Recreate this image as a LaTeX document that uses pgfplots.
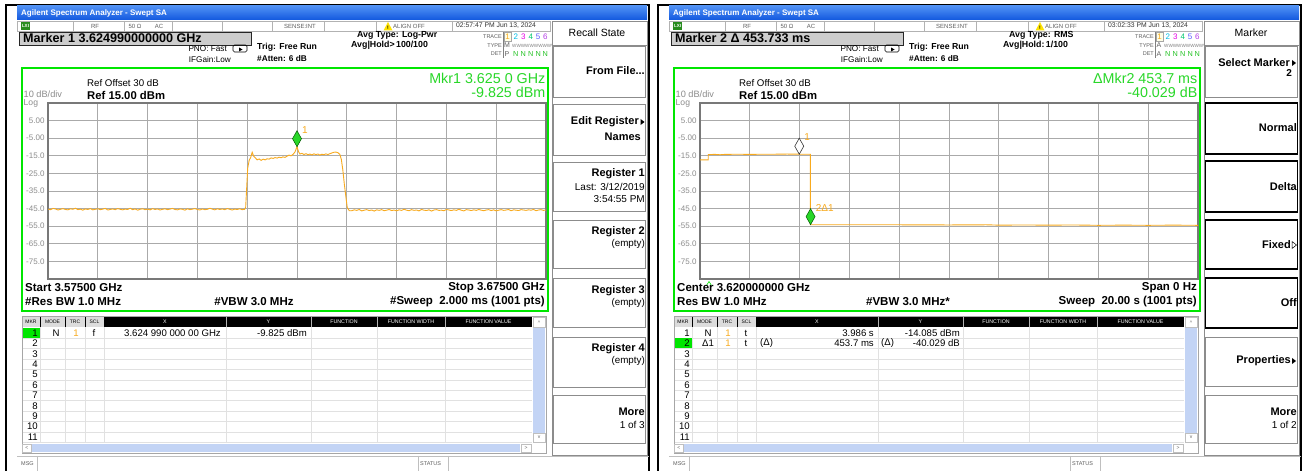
\documentclass[border=0pt]{standalone}
\usepackage{pgfplots}
\pgfplotsset{compat=1.18}
\usepackage{fontspec}
\setmainfont{Liberation Sans}
\newcommand\fs[1]{\fontsize{#1}{#1}\selectfont}
\definecolor{xpblue}{RGB}{18,88,222}
\definecolor{xpbluel}{RGB}{80,145,245}
\definecolor{sagreen}{RGB}{0,230,0}
\definecolor{mkgreen}{RGB}{40,215,40}
\definecolor{trc}{RGB}{248,170,30}
\definecolor{gridg}{RGB}{170,170,170}
\definecolor{axg}{RGB}{120,120,120}
\definecolor{tickg}{RGB}{140,140,140}
\definecolor{stg}{RGB}{95,95,95}
\definecolor{keyg}{RGB}{140,140,140}
\definecolor{boxg}{RGB}{205,205,205}
\definecolor{sbblue}{RGB}{195,212,245}
\definecolor{rowg}{RGB}{225,225,225}
\definecolor{lxi}{RGB}{40,140,30}
\definecolor{tc2}{RGB}{0,190,230}
\definecolor{tc3}{RGB}{230,0,230}
\definecolor{tc4}{RGB}{0,200,110}
\definecolor{tc5}{RGB}{90,90,255}
\definecolor{tc6}{RGB}{180,60,230}

\pgfplotsset{sa/.style={
  scale only axis, width=498pt, height=176pt, anchor=south west,
  ymin=-85, ymax=15, ytick={-75,-65,...,5},
  yticklabels={-75.0,-65.0,-55.0,-45.0,-35.0,-25.0,-15.0,-5.00,5.00},
  yticklabel style={font={\fs{8}}, text=tickg},
  xticklabels={}, major tick length=0pt,
  grid=major, major grid style={draw=gridg, line width=0.8pt},
  axis line style={draw=axg, line width=1.4pt},
}}

\newcommand\skbox[3][keyg]{\draw[#1, fill=white] (553.5,#2) rectangle (645.5,#3);}

% #1 date, #2 type letter, #3 det letter, #4 green row
\newcommand\panelbase[4]{%
 \draw[line width=1.6pt] (6,471) -- (6,5) -- (649,5) -- (649,471);
 \shade[top color=xpbluel, bottom color=xpblue] (17,6) rectangle (647,20);
 \node[anchor=west, text=white, inner sep=0pt] at (21,13) {\fs{8}\bfseries Agilent Spectrum Analyzer - Swept SA};
 % status row
 \draw[draw=gray!60, fill=white] (17,21) rectangle (550,31);
 \foreach \xx in {73,124,172,222,272,324,376,452} {\draw[gray!60] (\xx,21) -- (\xx,31);}
 \fill[lxi] (21,22) rectangle (30,30);
 \node[text=white,inner sep=0pt] at (25.5,26) {\fs{4.5}\bfseries LXI};
 \node[text=stg,inner sep=0pt] at (95,26) {\fs{6}RF};
 \node[text=stg,inner sep=0pt] at (135,26) {\fs{6}50 Ω};
 \node[text=stg,inner sep=0pt] at (159,26) {\fs{6}AC};
 \node[text=stg,inner sep=0pt] at (300,26) {\fs{6}SENSE:INT};
 \fill[yellow!85!orange] (383.5,30.5) -- (388,22) -- (392.5,30.5) -- cycle;
 \node[inner sep=0pt] at (388,27.5) {\fs{5}\bfseries !};
 \node[text=stg,anchor=west,inner sep=0pt] at (393,26) {\fs{6}ALIGN OFF};
 \node[text=black!80,anchor=west,inner sep=0pt] at (456,26) {\fs{6.8}#1};
 % marker box
 \draw[draw=gray!30!black, fill=boxg, line width=0.6pt] (19,32) rectangle (251,45);
 % acquisition info
 \node[anchor=east,inner sep=0pt] at (227,48.5) {\fs{8.2}PNO: Fast};
 \draw[line width=0.6pt, rounded corners=1.5pt] (233,45) rectangle (247,52);
 \fill (239,47.5) -- (242.5,49.5) -- (239,51.5) -- cycle;
 \node[anchor=east,inner sep=0pt] at (231,59.5) {\fs{8.2}IFGain:Low};
 \node[anchor=west,inner sep=0pt] at (257,47) {\fs{8.7}\bfseries Trig: Free Run};
 \node[anchor=west,inner sep=0pt] at (257,59) {\fs{8.3}\bfseries\#Atten: 6 dB};
 % trace block
 \node[anchor=east,inner sep=0pt,text=stg] at (502,37) {\fs{5.5}TRACE};
 \node[anchor=east,inner sep=0pt,text=stg] at (502,45.5) {\fs{5.5}TYPE};
 \node[anchor=east,inner sep=0pt,text=stg] at (502,54) {\fs{5.5}DET};
 \draw[gray] (503.5,32) -- (503.5,58);
 \draw[gray!70, fill=yellow!10] (504,32.5) rectangle (511,41.5);
 \node[text=trc, inner sep=0pt] at (507.5,37) {\fs{8}1};
 \node[text=tc2, inner sep=0pt] at (515.8,37) {\fs{8}2};
 \node[text=tc3, inner sep=0pt] at (523.3,37) {\fs{8}3};
 \node[text=tc4, inner sep=0pt] at (530.8,37) {\fs{8}4};
 \node[text=tc5, inner sep=0pt] at (538.2,37) {\fs{8}5};
 \node[text=tc6, inner sep=0pt] at (545.3,37) {\fs{8}6};
 \node[inner sep=0pt,text=stg] at (507,45.5) {\fs{7}#2};
 \node[inner sep=0pt,text=gray, anchor=west] at (512,45.5) {\fs{4.6}WWWWWWWWWW};
 \node[inner sep=0pt,text=stg] at (507,54) {\fs{7}#3};
 \foreach \xx in {515.8,523.3,530.8,538.2,545.3}{\node[text=mkgreen!90!black, inner sep=0pt] at (\xx,54) {\fs{7.3}N};}
 % display frame
 \draw[sagreen, line width=1.8pt] (22,68) rectangle (548,311);
 \node[anchor=west,inner sep=0pt,text=tickg] at (23.5,93.8) {\fs{9.2}10 dB/div};
 \node[anchor=west,inner sep=0pt,text=tickg] at (23.5,103.2) {\fs{8.6}Log};
 \node[anchor=west,inner sep=0pt] at (87,83.5) {\fs{9.7}Ref Offset 30 dB};
 \node[anchor=west,inner sep=0pt] at (87,95) {\fs{11.3}\bfseries Ref 15.00 dBm};
 % marker table
 \draw[gray!70, fill=white] (22,316) rectangle (546,453);
 \fill[boxg!70] (22.5,317) rectangle (104,327);
 \fill[black] (104,317) rectangle (532,327);
 \foreach \xx in {40,65,85} {\draw[black] (\xx,317) -- (\xx,327);}
 \foreach \xx in {226,311,377,445} {\draw[gray!60,line width=0.8pt] (\xx,317) -- (\xx,327);}
 \foreach \xx/\t in {31/MKR, 52.5/MODE, 75/TRC, 94.5/SCL} {\node[text=black,inner sep=0pt] at (\xx,322) {\fs{5}\t};}
 \foreach \xx/\t in {165/X, 268.5/Y, 344/FUNCTION, 411/FUNCTION WIDTH, 488.5/FUNCTION VALUE} {\node[text=white,inner sep=0pt] at (\xx,322) {\fs{5.3}\t};}
 \foreach \xx in {40,65,85,104,226,311,377,445} {\draw[rowg] (\xx,327) -- (\xx,442);}
 \foreach \k in {0,...,10} {\draw[rowg] (22.5,{338.2+\k*10.4}) -- (532,{338.2+\k*10.4});}
 \fill[sagreen] (22.5,{328+(#4-1)*10.4}) rectangle (40,{338+(#4-1)*10.4});
 \foreach \k in {1,...,11} {\node[anchor=east,inner sep=0pt] at (38,{333+(\k-1)*10.4}) {\fs{9.6}\k};}
 \fill[sbblue] (533,327.5) rectangle (545,433);
 \draw[gray!50,fill=white] (533,317.5) rectangle (545,327);
 \node[inner sep=0pt,text=stg] at (539,322.5) {\fs{5}\^{}};
 \draw[gray!50,fill=white] (533,433) rectangle (545,442);
 \node[inner sep=0pt,text=stg] at (539,437.5) {\fs{5}v};
 \fill[sbblue] (32,444) rectangle (520,452);
 \draw[gray!50,fill=white] (22.5,444) rectangle (31,452);
 \node[inner sep=0pt,text=stg] at (26.8,448) {\fs{5}<};
 \draw[gray!50,fill=white] (521,444) rectangle (531,452);
 \node[inner sep=0pt,text=stg] at (526,448) {\fs{5}>};
 % message row
 \draw[gray!50] (17,456) -- (649,456);
 \draw[gray!50] (37,456) -- (37,471);
 \node[text=stg, anchor=west, inner sep=0pt] at (21,464) {\fs{5.5}MSG};
 \draw[gray!50] (418,456) -- (418,471);
 \draw[gray!50] (448,456) -- (448,471);
 \node[text=stg, anchor=west, inner sep=0pt] at (420,464) {\fs{5.5}STATUS};
 % softkey column
 \draw[keyg, fill=white] (552,21) rectangle (647,455);
 \draw[keyg] (552,45) -- (647,45);
}

\begin{document}
\begin{tikzpicture}
\useasboundingbox (0,0) rectangle (1309pt,471pt);
\fill[white] (0,0) rectangle (1309pt,471pt);
\begin{scope}[x=1pt,y=-1pt,yshift=471pt]
 % ---------------- panel 1
 \panelbase{02:57:47 PM Jun 13, 2024}{M}{P}{1}
 \node[anchor=west,inner sep=0pt] at (23,38.5) {\fs{12.6}\bfseries Marker 1 3.624990000000 GHz};
 \node[anchor=west,inner sep=0pt] at (357,35) {\fs{8.8}\bfseries Avg Type: Log-Pwr};
 \node[anchor=west,inner sep=0pt] at (351,45.5) {\fs{8.8}\bfseries Avg|Hold>\,100/100};
 \node[anchor=east,inner sep=0pt,text=mkgreen] at (545.5,78) {\fs{14.3}Mkr1 3.625 0 GHz};
 \node[anchor=east,inner sep=0pt,text=mkgreen] at (545.5,92) {\fs{14.3}-9.825 dBm};
 \node[anchor=west,inner sep=0pt] at (25,288) {\fs{11.5}\bfseries Start 3.57500 GHz};
 \node[anchor=east,inner sep=0pt] at (545,288) {\fs{11.5}\bfseries Stop 3.67500 GHz};
 \node[anchor=west,inner sep=0pt] at (25,302) {\fs{11.5}\bfseries\#Res BW 1.0 MHz};
 \node[inner sep=0pt] at (254,302) {\fs{11.5}\bfseries\#VBW 3.0 MHz};
 \node[anchor=east,inner sep=0pt] at (545,302) {\fs{11.5}\bfseries\#Sweep\ \ 2.000 ms (1001 pts)};
 \node[inner sep=0pt] at (56,333) {\fs{9.6}N};
 \node[inner sep=0pt,text=trc] at (76,333) {\fs{9.6}1};
 \node[inner sep=0pt] at (94,333) {\fs{9.6}f};
 \node[anchor=east,inner sep=0pt] at (221,333) {\fs{9.6}3.624 990 000 00 GHz};
 \node[anchor=east,inner sep=0pt] at (307,333) {\fs{9.6}-9.825 dBm};
 \node[inner sep=0pt] at (597,33) {\fs{10.5}Recall State};
 \skbox{46}{97}\skbox{104}{155}\skbox{162}{211}\skbox{220}{268}\skbox{278}{327}\skbox{337}{387}\skbox{395}{443}
 \node[anchor=east,inner sep=0pt] at (645,71) {\fs{11}\bfseries From File...};
 \node[anchor=east,inner sep=0pt] at (639,122) {\fs{11}\bfseries Edit Register};
 \fill (640.5,119) -- (644.5,122) -- (640.5,125) -- cycle;
 \node[anchor=east,inner sep=0pt] at (641,137) {\fs{11}\bfseries Names};
 \node[anchor=east,inner sep=0pt] at (645,174) {\fs{11}\bfseries Register 1};
 \node[anchor=east,inner sep=0pt] at (645,187) {\fs{10}Last: 3/12/2019};
 \node[anchor=east,inner sep=0pt] at (645,199) {\fs{10}3:54:55 PM};
 \node[anchor=east,inner sep=0pt] at (645,232) {\fs{11}\bfseries Register 2};
 \node[anchor=east,inner sep=0pt] at (645,244) {\fs{9.8}(empty)};
 \node[anchor=east,inner sep=0pt] at (645,291) {\fs{11}\bfseries Register 3};
 \node[anchor=east,inner sep=0pt] at (645,303) {\fs{9.8}(empty)};
 \node[anchor=east,inner sep=0pt] at (645,349) {\fs{11}\bfseries Register 4};
 \node[anchor=east,inner sep=0pt] at (645,361) {\fs{9.8}(empty)};
 \node[anchor=east,inner sep=0pt] at (645,412) {\fs{11}\bfseries More};
 \node[anchor=east,inner sep=0pt] at (645,425) {\fs{10}1 of 3};
 % ---------------- panel 2
 \begin{scope}[xshift=652pt]
 \panelbase{03:02:33 PM Jun 13, 2024}{A}{A}{2}
 \node[anchor=west,inner sep=0pt] at (23,38.5) {\fs{12.6}\bfseries Marker 2 Δ 453.733 ms};
 \node[anchor=west,inner sep=0pt] at (357,35) {\fs{8.8}\bfseries Avg Type: RMS};
 \node[anchor=west,inner sep=0pt] at (351,45.5) {\fs{8.8}\bfseries Avg|Hold:\,1/100};
 \node[anchor=east,inner sep=0pt,text=mkgreen] at (545.5,78) {\fs{14.3}ΔMkr2 453.7 ms};
 \node[anchor=east,inner sep=0pt,text=mkgreen] at (545.5,92) {\fs{14.3}-40.029 dB};
 \draw[sagreen,line width=0.6pt] (54.5,285.5) -- (57,281.5) -- (59.5,285.5);
 \node[anchor=west,inner sep=0pt] at (25,288) {\fs{11.5}\bfseries Center 3.620000000 GHz};
 \node[anchor=east,inner sep=0pt] at (545,288) {\fs{11.5}\bfseries Span 0 Hz};
 \node[anchor=west,inner sep=0pt] at (25,302) {\fs{11.5}\bfseries Res BW 1.0 MHz};
 \node[inner sep=0pt] at (256,302) {\fs{11.5}\bfseries\#VBW 3.0 MHz*};
 \node[anchor=east,inner sep=0pt] at (545,302) {\fs{11.5}\bfseries Sweep\ \ 20.00 s (1001 pts)};
 \node[inner sep=0pt] at (56,333) {\fs{9.6}N};
 \node[inner sep=0pt,text=trc] at (76,333) {\fs{9.6}1};
 \node[inner sep=0pt] at (94,333) {\fs{9.6}t};
 \node[anchor=east,inner sep=0pt] at (222,333) {\fs{9.6}3.986 s};
 \node[anchor=east,inner sep=0pt] at (308,333) {\fs{9.6}-14.085 dBm};
 \node[inner sep=0pt] at (56,343.4) {\fs{9.6}Δ1};
 \node[inner sep=0pt,text=trc] at (76,343.4) {\fs{9.6}1};
 \node[inner sep=0pt] at (94,343.4) {\fs{9.6}t};
 \node[anchor=west,inner sep=0pt] at (108,343.4) {\fs{9.6}(Δ)};
 \node[anchor=east,inner sep=0pt] at (222,343.4) {\fs{9.6}453.7 ms};
 \node[anchor=west,inner sep=0pt] at (229,343.4) {\fs{9.6}(Δ)};
 \node[anchor=east,inner sep=0pt] at (308,343.4) {\fs{9.6}-40.029 dB};
 \node[inner sep=0pt] at (599,33) {\fs{10.5}Marker};
 \skbox{46}{97}
 \skbox[black,line width=1.3pt]{103}{154}\skbox[black,line width=1.3pt]{161}{212}\skbox[black,line width=1.3pt]{220}{269}\skbox[black,line width=1.3pt]{278}{328}
 \skbox{337}{386}\skbox{395}{443}
 \node[anchor=east,inner sep=0pt] at (638,63) {\fs{11}\bfseries Select Marker};
 \fill (640,60) -- (644,63) -- (640,66) -- cycle;
 \node[anchor=east,inner sep=0pt] at (640,73) {\fs{10}\bfseries 2};
 \node[anchor=east,inner sep=0pt] at (645,128) {\fs{11}\bfseries Normal};
 \node[anchor=east,inner sep=0pt] at (645,187) {\fs{11}\bfseries Delta};
 \node[anchor=east,inner sep=0pt] at (639,245) {\fs{11}\bfseries Fixed};
 \draw[line width=0.5pt] (640,241.5) -- (644.5,245) -- (640,248.5) -- cycle;
 \node[anchor=east,inner sep=0pt] at (645,303) {\fs{11}\bfseries Off};
 \node[anchor=east,inner sep=0pt] at (639,361) {\fs{11}\bfseries Properties};
 \fill (640,358) -- (644,361) -- (640,364) -- cycle;
 \node[anchor=east,inner sep=0pt] at (645,412) {\fs{11}\bfseries More};
 \node[anchor=east,inner sep=0pt] at (645,425) {\fs{10}1 of 2};
 \end{scope}
\end{scope}

% ---------------- plot 1
\begin{axis}[sa, at={(48pt,192pt)}, xmin=3575, xmax=3675, xtick={3585,3595,...,3665}]
\addplot[trc, line width=0.9pt] coordinates {
(3575.0,-45.3)(3575.5,-45.6)(3576.0,-44.9)(3576.5,-45.2)(3577.0,-45.8)(3577.5,-45.4)(3578.0,-45.0)(3578.5,-45.5)(3579.0,-45.7)(3579.5,-45.1)
(3580.0,-45.4)(3580.5,-44.8)(3581.0,-45.6)(3581.5,-45.3)(3582.0,-45.9)(3582.5,-45.2)(3583.0,-45.5)(3583.5,-45.0)(3584.0,-45.7)(3584.5,-45.4)
(3585.0,-45.1)(3585.5,-45.6)(3586.0,-45.3)(3586.5,-44.9)(3587.0,-45.8)(3587.5,-45.5)(3588.0,-45.2)(3588.5,-45.6)(3589.0,-45.0)(3589.5,-45.4)
(3590.0,-45.7)(3590.5,-45.3)(3591.0,-45.5)(3591.5,-44.8)(3592.0,-45.6)(3592.5,-45.2)(3593.0,-45.9)(3593.5,-45.4)(3594.0,-45.1)(3594.5,-45.6)
(3595.0,-45.3)(3595.5,-45.7)(3596.0,-45.0)(3596.5,-45.5)(3597.0,-45.2)(3597.5,-45.8)(3598.0,-45.4)(3598.5,-45.1)(3599.0,-45.6)(3599.5,-45.3)
(3600.0,-44.9)(3600.5,-45.5)(3601.0,-45.7)(3601.5,-45.2)(3602.0,-45.4)(3602.5,-45.9)(3603.0,-45.1)(3603.5,-45.6)(3604.0,-45.3)(3604.5,-45.0)
(3605.0,-45.5)(3605.5,-45.8)(3606.0,-45.2)(3606.5,-45.6)(3607.0,-45.4)(3607.5,-44.8)(3608.0,-45.3)(3608.5,-45.7)(3609.0,-45.1)(3609.5,-45.5)
(3610.0,-45.2)(3610.5,-45.6)(3611.0,-45.0)(3611.5,-45.4)(3612.0,-45.8)(3612.5,-45.3)(3613.0,-45.5)(3613.5,-45.1)(3614.0,-45.6)(3614.5,-45.4)
(3614.7,-44.0)(3614.9,-33.0)(3615.1,-22.0)(3615.4,-17.5)(3615.7,-16.0)(3616.0,-13.0)(3616.3,-15.2)(3616.7,-16.4)(3617.0,-17.3)(3617.4,-16.8)
(3617.8,-17.6)(3618.2,-16.9)(3618.6,-17.3)(3619.0,-16.7)(3619.4,-16.9)(3619.8,-16.2)(3620.2,-16.5)(3620.6,-16.0)(3621.0,-16.3)(3621.4,-15.8)
(3621.8,-16.1)(3622.2,-15.6)(3622.6,-15.9)(3623.0,-15.2)(3623.4,-14.6)(3623.8,-15.0)(3624.2,-14.2)(3624.6,-12.8)(3625.0,-9.8)(3625.3,-12.6)
(3625.6,-14.0)(3626.0,-13.6)(3626.4,-14.3)(3626.8,-13.8)(3627.2,-14.4)(3627.6,-14.0)(3628.0,-14.5)(3628.4,-13.9)(3628.8,-14.3)(3629.2,-14.0)
(3629.6,-14.6)(3630.0,-14.1)(3630.4,-14.4)(3630.8,-13.9)(3631.2,-14.3)(3631.6,-13.8)(3632.0,-13.4)(3632.4,-13.0)(3632.8,-12.9)(3633.2,-13.2)
(3633.6,-14.2)(3633.9,-17.0)(3634.2,-23.0)(3634.5,-31.0)(3634.8,-38.0)(3635.1,-44.5)(3635.5,-46.2)
(3636.0,-46.2)(3636.5,-45.7)(3637.0,-46.0)(3637.5,-45.5)(3638.0,-46.3)(3638.5,-45.9)(3639.0,-45.6)(3639.5,-46.1)(3640.0,-45.8)(3640.5,-46.4)
(3641.0,-45.7)(3641.5,-46.0)(3642.0,-45.6)(3642.5,-46.2)(3643.0,-45.9)(3643.5,-45.5)(3644.0,-46.1)(3644.5,-45.8)(3645.0,-46.3)(3645.5,-45.7)
(3646.0,-46.0)(3646.5,-45.4)(3647.0,-45.9)(3647.5,-46.2)(3648.0,-45.6)(3648.5,-46.0)(3649.0,-45.8)(3649.5,-46.3)(3650.0,-45.5)(3650.5,-45.9)
(3651.0,-46.1)(3651.5,-45.7)(3652.0,-46.4)(3652.5,-45.8)(3653.0,-45.6)(3653.5,-46.0)(3654.0,-45.9)(3654.5,-46.2)(3655.0,-45.5)(3655.5,-45.8)
(3656.0,-46.1)(3656.5,-45.7)(3657.0,-46.0)(3657.5,-45.4)(3658.0,-45.9)(3658.5,-46.3)(3659.0,-45.6)(3659.5,-45.8)(3660.0,-46.1)(3660.5,-45.7)
(3661.0,-46.0)(3661.5,-45.5)(3662.0,-45.9)(3662.5,-46.2)(3663.0,-45.8)(3663.5,-45.6)(3664.0,-46.1)(3664.5,-45.7)(3665.0,-46.3)(3665.5,-45.9)
(3666.0,-45.6)(3666.5,-46.0)(3667.0,-45.8)(3667.5,-45.5)(3668.0,-46.2)(3668.5,-45.7)(3669.0,-45.9)(3669.5,-46.1)(3670.0,-45.6)(3670.5,-45.8)
(3671.0,-46.0)(3671.5,-45.7)(3672.0,-45.9)(3672.5,-45.5)(3673.0,-46.2)(3673.5,-45.8)(3674.0,-45.6)(3674.5,-46.0)(3675.0,-45.8)
};
\addplot[only marks, mark=diamond*, mark size=8pt, mark options={xscale=0.75, yshift=8pt, fill=mkgreen, draw=green!35!black, line width=0.5pt}] coordinates {(3625,-9.825)};
\node[anchor=west, text=trc, inner sep=0pt, font={\fs{10}}, xshift=5pt, yshift=17pt] at (axis cs:3625,-9.825) {1};
\end{axis}

% ---------------- plot 2
\begin{axis}[sa, at={(700pt,192pt)}, xmin=0, xmax=20, xtick={2,4,...,18}]
\addplot[trc, line width=0.9pt] coordinates {
(0,-17.3)(0.33,-17.3)(0.33,-14.3)(0.6,-14.2)(0.8,-14.4)(1.0,-14.2)(1.5,-14.1)(2.0,-14.2)(2.5,-14.1)(3.0,-14.1)(3.5,-14.0)(4.0,-14.1)(4.43,-14.1)
(4.43,-54.2)(6,-54.2)(8,-54.2)(10,-54.3)(11.5,-54.2)(12,-54.4)(13,-54.3)(14,-54.4)(15,-54.3)(16,-54.5)(17,-54.4)(18,-54.5)(19,-54.4)(20,-54.5)
};
\addplot[only marks, mark=diamond*, mark size=8pt, mark options={xscale=0.75, yshift=8pt, fill=white, draw=gray!40!black, line width=0.6pt}] coordinates {(3.986,-14.085)};
\addplot[only marks, mark=diamond*, mark size=8pt, mark options={xscale=0.75, yshift=8pt, fill=mkgreen, draw=green!35!black, line width=0.5pt}] coordinates {(4.44,-54.114)};
\node[anchor=west, text=trc, inner sep=0pt, font={\fs{10}}, xshift=5pt, yshift=17pt] at (axis cs:3.986,-14.085) {1};
\node[anchor=west, text=trc, inner sep=0pt, font={\fs{10}}, xshift=5pt, yshift=17pt] at (axis cs:4.44,-54.114) {2Δ1};
\end{axis}
\end{tikzpicture}
\end{document}
